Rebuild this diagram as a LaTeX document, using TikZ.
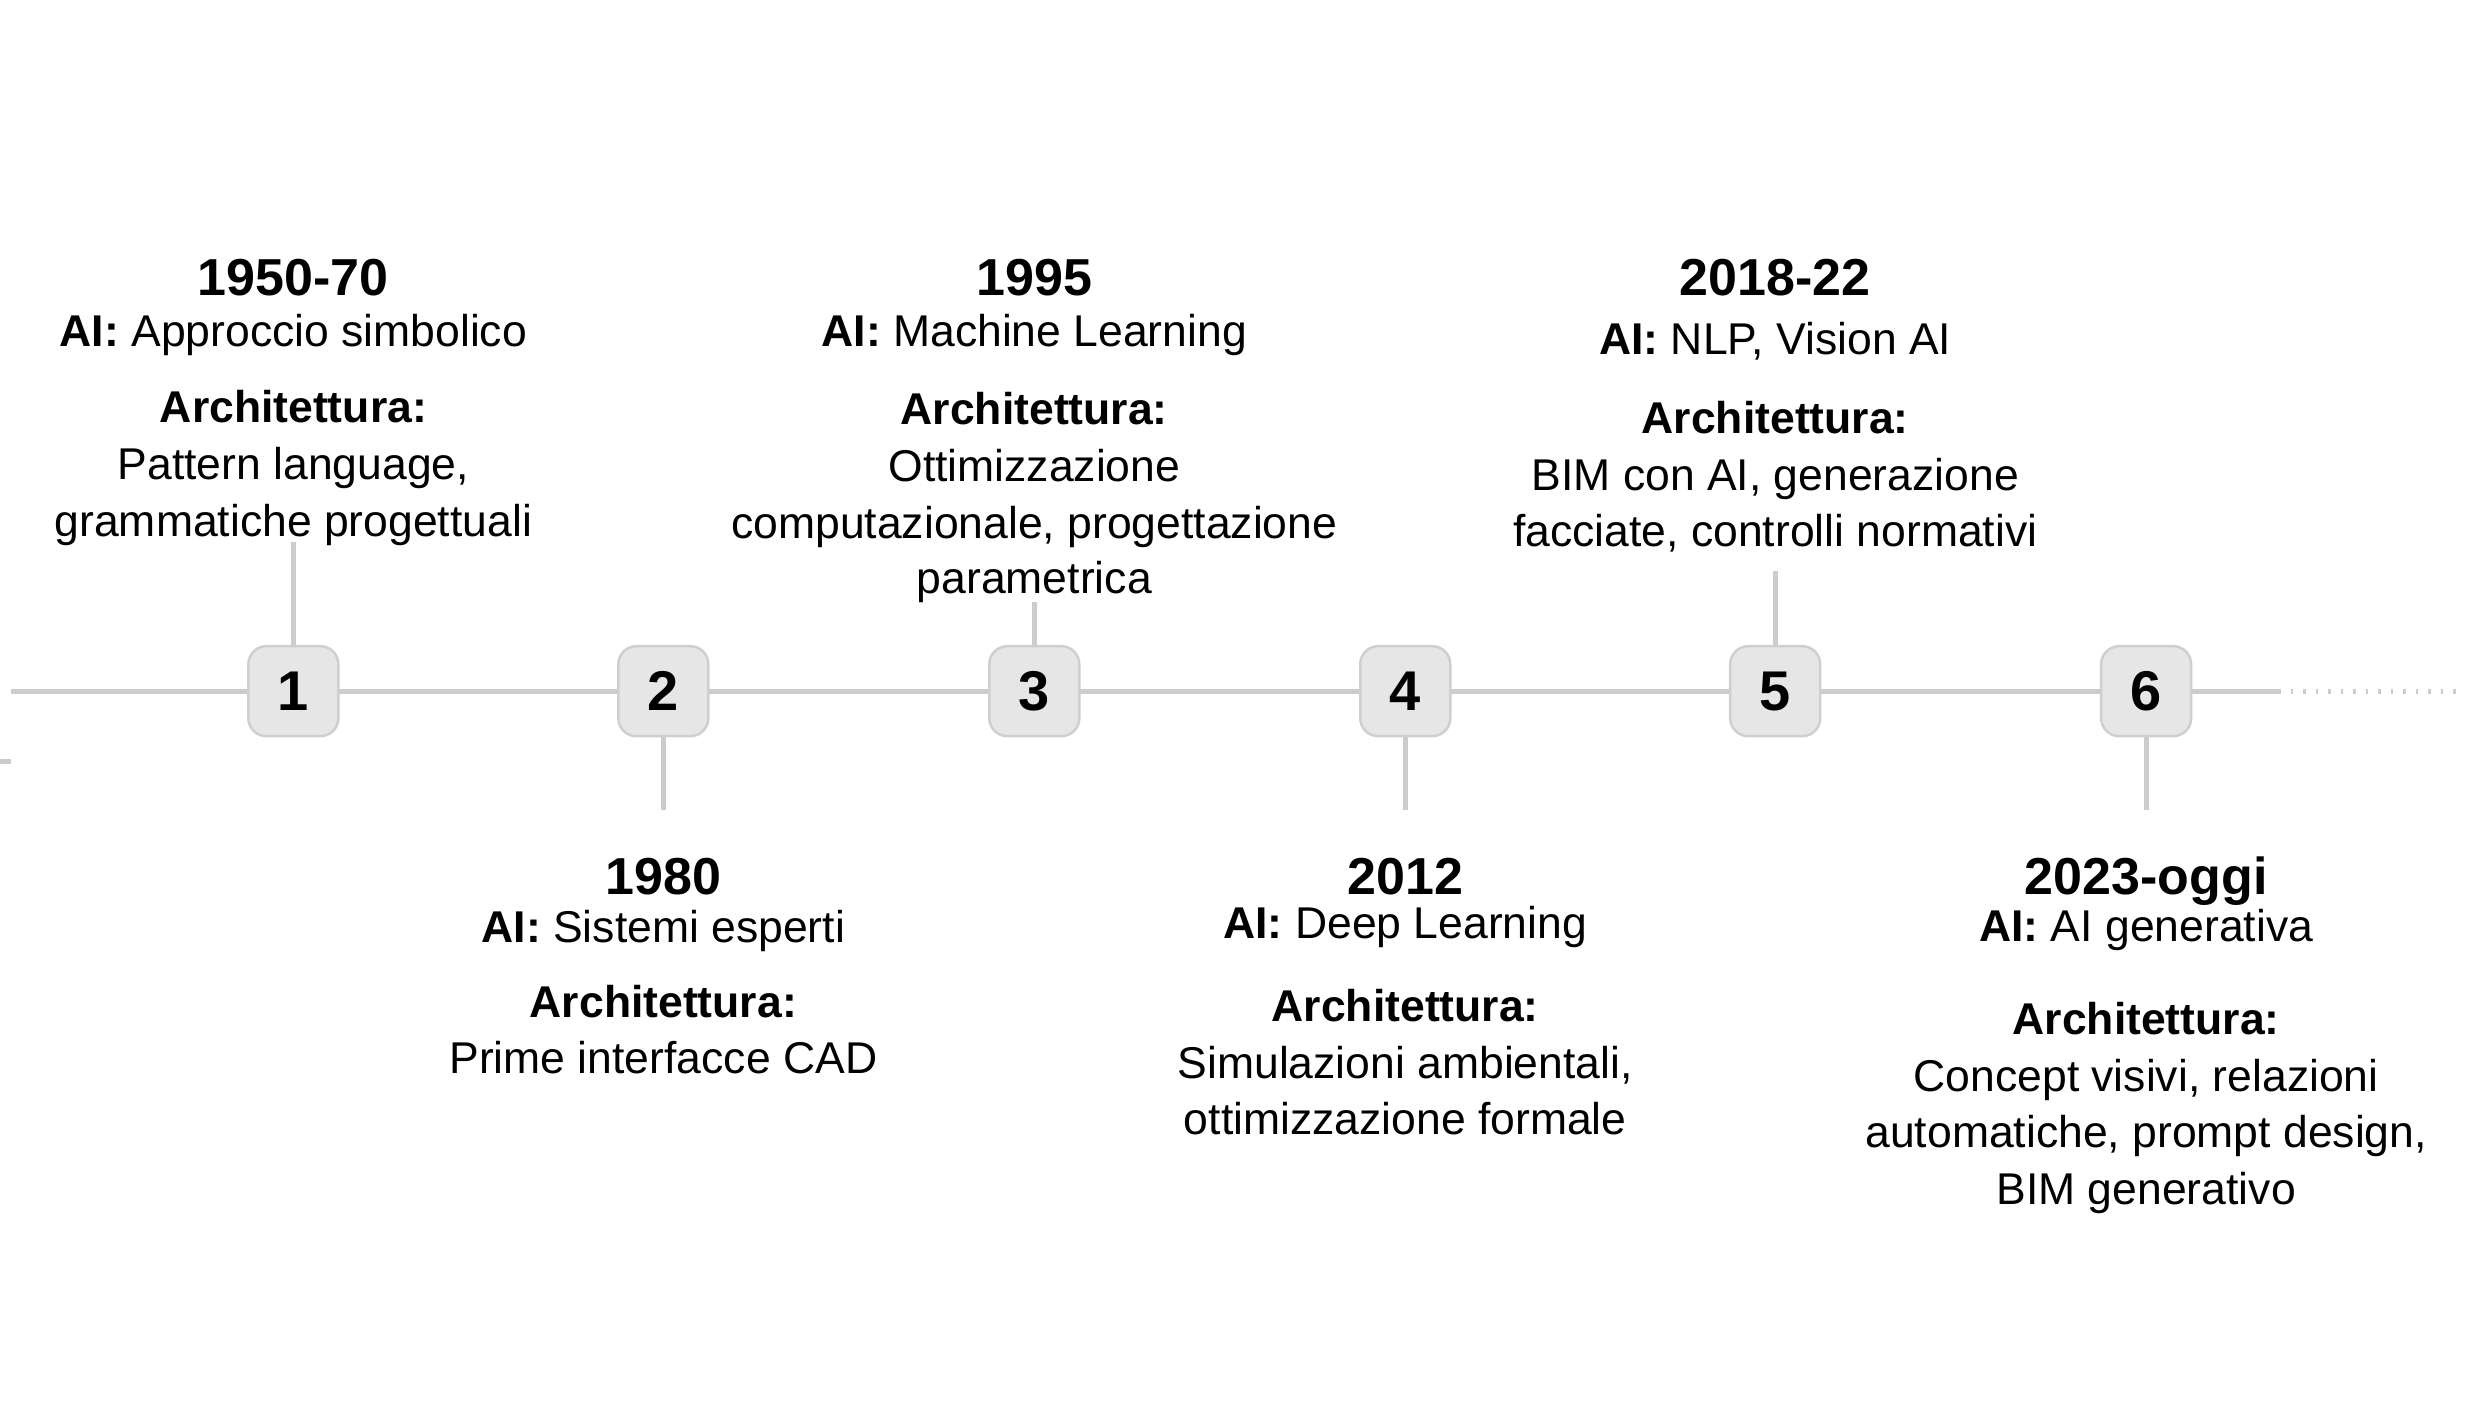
\documentclass[tikz,border=0pt]{standalone}
\usepackage{fontspec}
\setmainfont{Liberation Sans}
\definecolor{linegray}{HTML}{CCCCCC}
\definecolor{boxfill}{HTML}{E6E6E6}
\definecolor{boxborder}{HTML}{CFCFCF}
\tikzset{
  numbox/.style={draw=boxborder, fill=boxfill, line width=2.5pt, rounded corners=18pt,
    minimum width=90pt, minimum height=90pt, inner sep=0pt,
    font=\fontsize{56}{60}\selectfont\bfseries},
  tline/.style={draw=linegray, line width=5pt},
  dotline/.style={draw=linegray, line width=5pt, dash pattern=on 2.5pt off 10pt},
  yearlbl/.style={anchor=base, inner sep=0pt, font=\fontsize{52}{60}\selectfont\bfseries},
  txt/.style={anchor=base, inner sep=0pt, font=\fontsize{44.5}{57}\selectfont},
  boldtxt/.style={anchor=base, inner sep=0pt, font=\fontsize{44.5}{57}\selectfont\bfseries},
}
\begin{document}
\begin{tikzpicture}[x=0.9945pt,y=-0.9945pt]
\useasboundingbox (0,0) rectangle (2478.6,1430.9);
% timeline coordinates
\coordinate (p1) at (295,695);
\coordinate (p2) at (667,695);
\coordinate (p3) at (1040,695);
\coordinate (p4) at (1413,695);
\coordinate (p5) at (1785,695);
\coordinate (p6) at (2158,695);
\coordinate (tstart) at (11,695);
\coordinate (tend) at (2291,695);
\coordinate (tdots) at (2478,695);
\coordinate (tickA) at (0,766);
\coordinate (tickB) at (11,766);
\coordinate (c1) at (295,545);
\coordinate (c2) at (667,814);
\coordinate (c3) at (1040,605);
\coordinate (c4) at (1413,814);
\coordinate (c5) at (1785,574);
\coordinate (c6) at (2158,814);
% lines
\draw[tline] (tstart) -- (p6) -- (tend);
\draw[dotline] (tend) -- (tdots);
\draw[tline] (tickA) -- (tickB);
\draw[tline] (p1) -- (c1);
\draw[tline] (p2) -- (c2);
\draw[tline] (p3) -- (c3);
\draw[tline] (p4) -- (c4);
\draw[tline] (p5) -- (c5);
\draw[tline] (p6) -- (c6);
% boxes
\node[numbox] (b1) at (p1) {1};
\node[numbox] (b2) at (p2) {2};
\node[numbox] (b3) at (p3) {3};
\node[numbox] (b4) at (p4) {4};
\node[numbox] (b5) at (p5) {5};
\node[numbox] (b6) at (p6) {6};
% column 1
\node[yearlbl] (y1) at (295,297) {1950-70};
\node[txt] (a1) at (295,348) {\textbf{AI:} Approccio simbolico};
\node[boldtxt] (h1) at (295,425) {Architettura:};
\node[txt] (p1a) at (295,482) {Pattern language,};
\node[txt] (p1b) at (295,539) {grammatiche progettuali};
% column 2
\node[yearlbl] (y2) at (667,899) {1980};
\node[txt] (a2) at (667,948) {\textbf{AI:} Sistemi esperti};
\node[boldtxt] (h2) at (667,1023) {Architettura:};
\node[txt] (p2a) at (667,1079) {Prime interfacce CAD};
% column 3
\node[yearlbl] (y3) at (1040,297) {1995};
\node[txt] (a3) at (1040,348) {\textbf{AI:} Machine Learning};
\node[boldtxt] (h3) at (1040,427) {Architettura:};
\node[txt] (p3a) at (1040,484) {Ottimizzazione};
\node[txt] (p3b) at (1040,541) {computazionale, progettazione};
\node[txt] (p3c) at (1040,597) {parametrica};
% column 4
\node[yearlbl] (y4) at (1413,899) {2012};
\node[txt] (a4) at (1413,944) {\textbf{AI:} Deep Learning};
\node[boldtxt] (h4) at (1413,1027) {Architettura:};
\node[txt] (p4a) at (1413,1084) {Simulazioni ambientali,};
\node[txt] (p4b) at (1413,1141) {ottimizzazione formale};
% column 5
\node[yearlbl] (y5) at (1785,297) {2018-22};
\node[txt] (a5) at (1785,356) {\textbf{AI:} NLP, Vision AI};
\node[boldtxt] (h5) at (1785,436) {Architettura:};
\node[txt] (p5a) at (1785,493) {BIM con AI, generazione};
\node[txt] (p5b) at (1785,550) {facciate, controlli normativi};
% column 6
\node[yearlbl] (y6) at (2158,899) {2023-oggi};
\node[txt] (a6) at (2158,947) {\textbf{AI:} AI generativa};
\node[boldtxt] (h6) at (2158,1040) {Architettura:};
\node[txt] (p6a) at (2158,1098) {Concept visivi, relazioni};
\node[txt] (p6b) at (2158,1154) {automatiche, prompt design,};
\node[txt] (p6c) at (2158,1211) {BIM generativo};
\end{tikzpicture}
\end{document}
